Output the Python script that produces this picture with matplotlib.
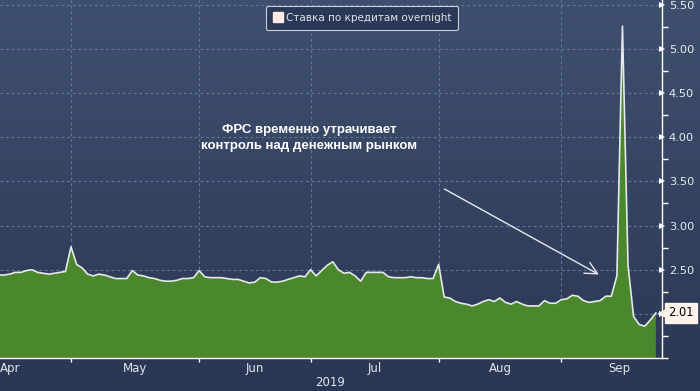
import numpy as np
import pandas as pd
import matplotlib
matplotlib.use('Agg')
import matplotlib.pyplot as plt
from matplotlib.lines import Line2D

# overnight rate, business days 2019-04-12 .. 2019-09-25
vals = [
    2.44, 2.44, 2.45, 2.47, 2.47, 2.49, 2.50, 2.47, 2.46, 2.45,
    2.46, 2.47, 2.48, 2.76, 2.56, 2.52, 2.45, 2.43, 2.45, 2.44,
    2.42, 2.40, 2.40, 2.40, 2.49, 2.44, 2.43, 2.41, 2.40, 2.38,
    2.37, 2.37, 2.38, 2.40, 2.40, 2.41, 2.49, 2.42, 2.41, 2.41,
    2.41, 2.40, 2.39, 2.39, 2.37, 2.35, 2.36, 2.41, 2.40, 2.36,
    2.36, 2.37, 2.39, 2.41, 2.43, 2.42, 2.50, 2.43, 2.49, 2.55,
    2.59, 2.50, 2.46, 2.47, 2.43, 2.37, 2.47, 2.47, 2.47, 2.47,
    2.42, 2.41, 2.41, 2.41, 2.42, 2.41, 2.41, 2.40, 2.40, 2.56,
    2.19, 2.18, 2.14, 2.12, 2.11, 2.09, 2.11, 2.14, 2.16, 2.14,
    2.18, 2.13, 2.11, 2.14, 2.11, 2.09, 2.09, 2.09, 2.15, 2.12,
    2.12, 2.16, 2.17, 2.21, 2.20, 2.15, 2.13, 2.14, 2.15, 2.20,
    2.20, 2.43, 5.26, 2.55, 1.97, 1.88, 1.86, 1.93, 2.01,
]
start_date = '2019-04-12'
month_names = ['Apr', 'May', 'Jun', 'Jul', 'Aug', 'Sep']
year_label = '2019'
series_name = 'Ставка по кредитам overnight'
note = 'ФРС временно утрачивает\nконтроль над денежным рынком'

# positions on a business-day axis
full = pd.bdate_range('2019-04-01', '2019-09-30')
offset = list(full).index(pd.Timestamp(start_date))
x = np.arange(len(vals))
month_start = [i - offset for i in range(len(full)) if i == 0 or full[i].month != full[i - 1].month]
month_end = month_start[1:] + [len(full) - offset]
month_mid = [(a + b) / 2 for a, b in zip(month_start, month_end)]

W, H = 700, 391
fig = plt.figure(figsize=(W / 100, H / 100), dpi=100)

# background gradient
bg = fig.add_axes([0, 0, 1, 1], zorder=-10)
top = np.array([63, 80, 110]) / 255
bot = np.array([42, 55, 84]) / 255
t = np.linspace(0, 1, 256)[:, None]
grad = (top * (1 - t) + bot * t)[:, None, :]
bg.imshow(grad, aspect='auto', extent=[0, 1, 0, 1])
bg.axis('off')

ax = fig.add_axes([0, 33 / H, 662 / W, 358 / H])
ax.set_facecolor('none')

ax.fill_between(x, vals, 0, color='#4a872d', lw=0, zorder=2)
ax.plot(x, vals, color='#e6e8ea', lw=1.2, zorder=3)

ax.set_xlim(0.25, 119.1)
ax.set_ylim(1.5, 5.555)

# grid
for m in month_start[1:]:
    ax.axvline(m, color='#5f7799', lw=0.8, ls=(0, (2.5, 2.5)), zorder=1)
for yv in np.arange(2.0, 5.51, 0.5):
    ax.axhline(yv, color='#5f7799', lw=0.8, ls=(0, (2.5, 2.5)), zorder=1)

# spines
for s in ['left', 'top']:
    ax.spines[s].set_visible(False)
ax.spines['bottom'].set_color('white')
ax.spines['right'].set_color('white')
ax.spines['bottom'].set_linewidth(1.0)
ax.spines['right'].set_linewidth(1.0)

# x ticks: marks at month starts, labels mid-month
ax.set_xticks(month_start[1:])
ax.set_xticklabels([])
ax.tick_params(axis='x', which='major', direction='out', length=3, color='white', width=1)
ax.set_xticks(month_mid, minor=True)
ax.set_xticklabels(month_names, minor=True)
ax.tick_params(axis='x', which='minor', length=0, pad=3, labelsize=8.5, labelcolor='#e2e6ee')

# y ticks on right
ax.yaxis.tick_right()
ax.set_yticks(np.arange(2.0, 5.51, 0.5))
ax.set_yticklabels(['' if v == 2.0 else f'{v:.2f}' for v in np.arange(2.0, 5.51, 0.5)])
ax.set_yticks(np.arange(1.5, 5.6, 0.25), minor=True)
ax.tick_params(axis='y', which='major', length=0, pad=5, labelsize=8.2, labelcolor='#e8ebf0')
ax.tick_params(axis='y', which='minor', direction='out', length=4, color='white', width=1)
for tk in ax.yaxis.get_major_ticks():
    tk.tick2line.set_marker('>')
    tk.tick2line.set_markersize(5)
    tk.tick2line.set_markeredgewidth(0)
    tk.tick2line.set_color('white')
    tk.tick2line.set_visible(True)

fig.text(330 / W, 1 - 382 / H, year_label, ha='center', va='center', fontsize=8.5, color='#e2e6ee')

# last value label
ax.annotate(f'{vals[-1]:.2f}', xy=(1, vals[-1]), xycoords=('axes fraction', 'data'),
            xytext=(4.5, 0), textcoords='offset points', ha='left', va='center',
            fontsize=8.3, color='black', zorder=10, annotation_clip=False,
            bbox=dict(boxstyle='square,pad=0.28', fc='#fdf3ea', ec='#fdf3ea'))
ax.plot([1.003], [vals[-1]], marker='<', ms=8, color='#fdf3ea', mec='#fdf3ea',
        transform=ax.get_yaxis_transform(), clip_on=False, zorder=9)

# legend
h = Line2D([], [], marker='s', ls='None', color='#fdebe4', ms=7)
leg = ax.legend([h], [series_name], loc='center', bbox_to_anchor=(0.547, 0.95),
                frameon=True, fontsize=7.5, handletextpad=0.3, borderpad=0.65,
                handlelength=1.0, fancybox=True)
leg.get_frame().set_facecolor('#2b3956')
leg.get_frame().set_edgecolor('#c9d0da')
leg.get_frame().set_linewidth(0.8)
leg.get_frame().set_alpha(1)
for txt in leg.get_texts():
    txt.set_color('#dfe3ea')

# annotation
ax.annotate('', xy=(108.2, 2.43), xytext=(79.6, 3.43),
            arrowprops=dict(arrowstyle='->', color='#e6e8ee', lw=1.0, mutation_scale=22),
            zorder=6)
ax.text(55.7, 3.99, note, ha='center', va='center', multialignment='center',
        fontsize=9.5, fontweight='bold', color='white', family='Liberation Sans',
        linespacing=1.45, zorder=6)

fig.savefig('out.png', dpi=100)
